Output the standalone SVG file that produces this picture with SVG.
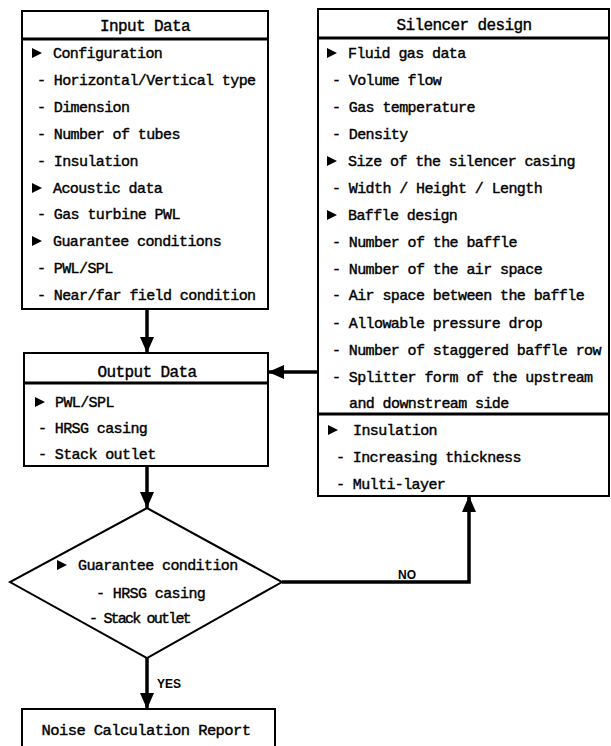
<svg xmlns="http://www.w3.org/2000/svg" width="611" height="746" viewBox="0 0 611 746">
<style>
.box{fill:#fff;stroke:#000;stroke-width:2}
.sep{stroke:#000;stroke-width:3}
.t{font-family:"Liberation Mono","DejaVu Sans Mono",monospace;font-size:15px;letter-spacing:-0.6px;fill:#000;stroke:#000;stroke-width:0.4}
.h{font-family:"Liberation Mono","DejaVu Sans Mono",monospace;font-size:16px;letter-spacing:-0.6px;fill:#000;stroke:#000;stroke-width:0.4;text-anchor:middle}
.lbl{font-family:"Liberation Sans",Arial,sans-serif;font-size:12px;font-weight:bold;fill:#000}
.con{fill:none;stroke:#000;stroke-width:3.5}
.dia{fill:#fff;stroke:#000;stroke-width:2}
</style>
<defs>
<marker id="ah" markerUnits="userSpaceOnUse" markerWidth="17" markerHeight="15" refX="16" refY="7" orient="auto">
<path d="M0,0 L16,7 L0,14 z" fill="#000"/>
</marker>
<polygon id="bul" points="0,-5 10,0 0,5" fill="#000"/>
</defs>

<g id="input-data">
<rect class="box" x="22" y="11" width="246" height="298"/>
<line class="sep" x1="22" y1="39" x2="268" y2="39"/>
<text class="h" x="145" y="31">Input Data</text>
<use href="#bul" x="32" y="53"/>
<text class="t" x="53" y="58">Configuration</text>
<text class="t" x="37" y="85">- Horizontal/Vertical type</text>
<text class="t" x="37" y="112">- Dimension</text>
<text class="t" x="37" y="139">- Number of tubes</text>
<text class="t" x="37" y="166">- Insulation</text>
<use href="#bul" x="32" y="188"/>
<text class="t" x="53" y="193">Acoustic data</text>
<text class="t" x="37" y="219">- Gas turbine PWL</text>
<use href="#bul" x="32" y="241"/>
<text class="t" x="53" y="246">Guarantee conditions</text>
<text class="t" x="37" y="273">- PWL/SPL</text>
<text class="t" x="37" y="300">- Near/far field condition</text>
</g>

<g id="silencer-design">
<rect class="box" x="318" y="9" width="291" height="487"/>
<line class="sep" x1="318" y1="38" x2="609" y2="38"/>
<line class="sep" x1="318" y1="414" x2="609" y2="414"/>
<text class="h" x="464" y="30">Silencer design</text>
<use href="#bul" x="327" y="53"/>
<text class="t" x="348" y="58">Fluid gas data</text>
<text class="t" x="332" y="85">- Volume flow</text>
<text class="t" x="332" y="112">- Gas temperature</text>
<text class="t" x="332" y="139">- Density</text>
<use href="#bul" x="327" y="161"/>
<text class="t" x="348" y="166">Size of the silencer casing</text>
<text class="t" x="332" y="193">- Width / Height / Length</text>
<use href="#bul" x="327" y="215"/>
<text class="t" x="348" y="220">Baffle design</text>
<text class="t" x="332" y="247">- Number of the baffle</text>
<text class="t" x="332" y="274">- Number of the air space</text>
<text class="t" x="332" y="300">- Air space between the baffle</text>
<text class="t" x="332" y="328">- Allowable pressure drop</text>
<text class="t" x="332" y="355">- Number of staggered baffle row</text>
<text class="t" x="332" y="382">- Splitter form of the upstream</text>
<text class="t" x="349" y="408">and downstream side</text>
<use href="#bul" x="328" y="430"/>
<text class="t" x="353" y="435">Insulation</text>
<text class="t" x="336" y="462">- Increasing thickness</text>
<text class="t" x="336" y="489">- Multi-layer</text>
</g>

<g id="output-data">
<rect class="box" x="24" y="353" width="244" height="113"/>
<line class="sep" x1="24" y1="383" x2="268" y2="383"/>
<text class="h" x="147" y="377">Output Data</text>
<use href="#bul" x="35" y="402"/>
<text class="t" x="55" y="407">PWL/SPL</text>
<text class="t" x="38" y="433">- HRSG casing</text>
<text class="t" x="38" y="459">- Stack outlet</text>
</g>

<g id="guarantee-condition">
<polygon class="dia" points="147,508 282,582 147,658 10,582"/>
<use href="#bul" x="57" y="565"/>
<text class="t" x="78" y="570">Guarantee condition</text>
<text class="t" x="96" y="598">- HRSG casing</text>
<text class="t" x="89" y="623" textLength="102" lengthAdjust="spacing">- Stack outlet</text>
</g>

<g id="noise-report">
<rect class="box" x="22" y="709" width="253" height="42"/>
<text class="h" x="146" y="735" style="font-size:15.5px">Noise Calculation Report</text>
</g>

<g id="connectors">
<path class="con" d="M147,309 L147,353" marker-end="url(#ah)"/>
<path class="con" d="M319,372 L268,372" marker-end="url(#ah)"/>
<path class="con" d="M147,466 L147,508" marker-end="url(#ah)"/>
<path class="con" d="M282,582 L469,582 L469,496" marker-end="url(#ah)"/>
<path class="con" d="M147,658 L147,709" marker-end="url(#ah)"/>
<text class="lbl" x="398" y="579">NO</text>
<text class="lbl" x="157" y="688">YES</text>
</g>
</svg>
